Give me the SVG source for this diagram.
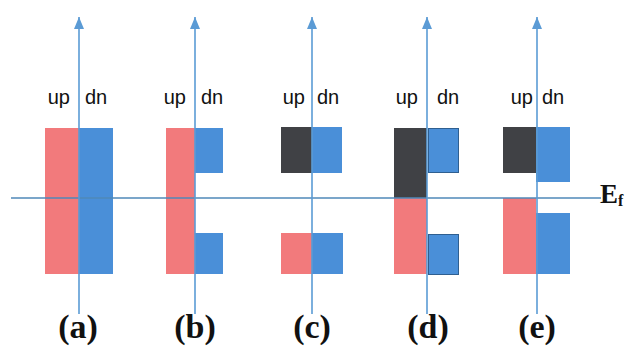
<svg xmlns="http://www.w3.org/2000/svg" width="630" height="346" viewBox="0 0 630 346">
<defs>
<marker id="ah" markerWidth="12" markerHeight="10" refX="12" refY="5" orient="auto" markerUnits="userSpaceOnUse" viewBox="0 0 12 10">
<path d="M0,0 L12,5 L0,10 Z" fill="#5b9bd5"/>
</marker>
</defs>
<style>
.r{fill:#f27a7c}
.b{fill:#4a8fd8}
.k{fill:#404145}
.bs{fill:#4a8fd8;stroke:#2f5f90;stroke-width:1}
.ax{stroke:#5b9bd5;stroke-width:1.6;fill:none}
.ef{stroke:#4f88b8;stroke-width:1.4;fill:none}
.sp{font-family:"Liberation Sans",Arial,sans-serif;font-size:20px;fill:#111}
.lb{font-family:"Liberation Serif","Times New Roman",serif;font-size:34px;font-weight:bold;fill:#111;text-anchor:middle}
.eft{font-family:"Liberation Serif","Times New Roman",serif;font-weight:bold;fill:#111}
</style>
<rect width="630" height="346" fill="#fff"/>
<g id="a">
<rect class="r" x="45" y="128" width="34" height="146"/>
<rect class="b" x="79" y="128" width="34" height="146"/>
<text class="sp" x="70" y="104" text-anchor="end">up</text>
<text class="sp" x="85" y="104">dn</text>
<text class="lb" x="78" y="338">(a)</text>
</g>
<g id="b">
<rect class="r" x="166" y="128" width="29" height="146"/>
<rect class="b" x="195" y="128" width="28" height="45"/>
<rect class="b" x="195" y="233" width="28" height="41"/>
<text class="sp" x="186" y="104" text-anchor="end">up</text>
<text class="sp" x="201" y="104">dn</text>
<text class="lb" x="195" y="338">(b)</text>
</g>
<g id="c">
<rect class="k" x="281" y="127" width="31" height="46"/>
<rect class="b" x="312" y="127" width="30" height="46"/>
<rect class="r" x="281" y="233" width="31" height="41"/>
<rect class="b" x="312" y="233" width="31" height="41"/>
<text class="sp" x="305" y="104" text-anchor="end">up</text>
<text class="sp" x="317" y="104">dn</text>
<text class="lb" x="312" y="338">(c)</text>
</g>
<g id="d">
<rect class="k" x="394" y="128" width="33" height="70"/>
<rect class="r" x="394" y="198" width="33" height="76"/>
<rect class="bs" x="428.5" y="128.5" width="30" height="44"/>
<rect class="bs" x="428.5" y="234.5" width="30" height="40"/>
<text class="sp" x="418" y="104" text-anchor="end">up</text>
<text class="sp" x="437" y="104">dn</text>
<text class="lb" x="428" y="338">(d)</text>
</g>
<g id="e">
<rect class="k" x="503" y="127" width="33" height="46"/>
<rect class="b" x="536" y="127" width="34" height="55"/>
<rect class="r" x="503" y="198" width="33" height="76"/>
<rect class="b" x="536" y="213" width="34" height="61"/>
<text class="sp" x="533" y="104" text-anchor="end">up</text>
<text class="sp" x="542" y="104">dn</text>
<text class="lb" x="537" y="338">(e)</text>
</g>
<g id="connectors">
<line class="ef" x1="11" y1="198" x2="601" y2="198"/>
<line class="ax" x1="79" y1="314" x2="79" y2="17" marker-end="url(#ah)"/>
<line class="ax" x1="195" y1="314" x2="195" y2="17" marker-end="url(#ah)"/>
<line class="ax" x1="312" y1="314" x2="312" y2="17" marker-end="url(#ah)"/>
<line class="ax" x1="427" y1="314" x2="427" y2="17" marker-end="url(#ah)"/>
<line class="ax" x1="537" y1="314" x2="537" y2="17" marker-end="url(#ah)"/>
</g>
<g id="Ef">
<text class="eft" x="600" y="203" font-size="27">E<tspan font-size="16" dy="3">f</tspan></text>
</g>
</svg>
